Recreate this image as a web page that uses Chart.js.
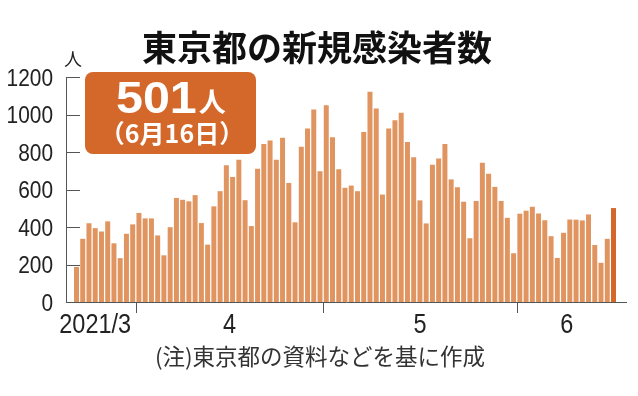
<!DOCTYPE html>
<html><head><meta charset="utf-8">
<script src="https://cdn.jsdelivr.net/npm/chart.js@4/dist/chart.umd.min.js"></script>
<style>html,body{margin:0;padding:0;background:#fff;}#wrap{width:638px;height:396px;}</style>
</head><body><div id="wrap"><canvas id="c" width="638" height="396"></canvas></div>
<script>
// Categories: dates (2021/3/22 - 2021/6/16)
const dates = [
 "3/22","3/23","3/24","3/25","3/26","3/27","3/28","3/29","3/30","3/31",
 "4/1","4/2","4/3","4/4","4/5","4/6","4/7","4/8","4/9","4/10",
 "4/11","4/12","4/13","4/14","4/15","4/16","4/17","4/18","4/19","4/20",
 "4/21","4/22","4/23","4/24","4/25","4/26","4/27","4/28","4/29","4/30",
 "5/1","5/2","5/3","5/4","5/5","5/6","5/7","5/8","5/9","5/10",
 "5/11","5/12","5/13","5/14","5/15","5/16","5/17","5/18","5/19","5/20",
 "5/21","5/22","5/23","5/24","5/25","5/26","5/27","5/28","5/29","5/30","5/31",
 "6/1","6/2","6/3","6/4","6/5","6/6","6/7","6/8","6/9","6/10",
 "6/11","6/12","6/13","6/14","6/15","6/16"
];
// Series: daily new cases
const cases = [
 187,337,420,394,376,430,313,234,364,414,
 475,446,446,355,249,399,555,545,537,570,
 421,306,510,591,729,667,759,543,405,711,
 843,861,759,876,635,425,828,925,1027,698,
 1050,879,708,609,621,591,907,1121,1032,573,
 925,969,1010,854,772,542,419,732,766,843,
 654,612,535,340,539,743,684,614,539,449,260,
 471,487,508,472,436,351,235,369,440,439,
 435,467,304,209,337,501
];
// Tick labels
const yTicks = [0,200,400,600,800,1000,1200];
const monthLabels = ["2021/3","4","5","6"];
const titleText = "東京都の新規感染者数";
const unitText = "人";
const noteText = "(注)東京都の資料などを基に作成";
const calloutValue = "501";
const calloutUnit = "人";
const calloutDate = "（6月16日）";

const LIGHT = "#e0945f";
const DARK = "#d4672a";
const NUM_FONT = "'Liberation Sans',Arial,sans-serif";
const JP_FONT = "'Noto Sans CJK JP','Noto Sans',sans-serif";

// month groups derived from dates
const monthOf = d => d.split("/")[0];
const groups = [];
dates.forEach((d,i)=>{
  const m = monthOf(d);
  if (!groups.length || groups[groups.length-1].m !== m) groups.push({m, start:i, end:i});
  else groups[groups.length-1].end = i;
});
const boundaries = groups.slice(1).map(g=>g.start-0.5);
const labelPos = groups.map((g,k)=> k===0 ? g.start+3 : (g.start+g.end)/2);

function narrowText(ctx, text, x, y, sx, align){
  ctx.save();
  ctx.translate(x, y);
  ctx.scale(sx, 1);
  ctx.textAlign = align;
  ctx.fillText(text, 0, 0);
  ctx.restore();
}

const decor = {
  id:'decor',
  afterDraw(chart){
    const {ctx, scales:{x,y}} = chart;
    ctx.save();
    // inner y ticks
    ctx.strokeStyle = "#555"; ctx.lineWidth = 1;
    yTicks.forEach(v=>{
      if (v===0) return;
      const py = Math.round(y.getPixelForValue(v))+0.5;
      ctx.beginPath(); ctx.moveTo(x.left, py); ctx.lineTo(x.left+14, py); ctx.stroke();
    });
    // month boundary ticks
    boundaries.forEach(b=>{
      const px = Math.round(x.getPixelForValue(b))+0.5;
      ctx.beginPath(); ctx.moveTo(px, y.bottom); ctx.lineTo(px, y.bottom+11); ctx.stroke();
    });
    // y tick labels
    ctx.fillStyle = "#222";
    ctx.textBaseline = "alphabetic";
    ctx.font = "24px " + NUM_FONT;
    yTicks.forEach(v=>{
      narrowText(ctx, String(v), 53, y.getPixelForValue(v)+8.5, 0.87, "right");
    });
    // x tick labels
    ctx.font = "27px " + NUM_FONT;
    monthLabels.forEach((t,k)=>{
      narrowText(ctx, t, x.getPixelForValue(labelPos[k]), 333, 0.87, "center");
    });
    // title
    ctx.fillStyle = "#111";
    ctx.font = "bold 35px " + JP_FONT;
    ctx.textAlign = "center"; ctx.textBaseline = "middle";
    ctx.fillText(titleText, 317, 48);
    // unit
    ctx.font = "18px " + JP_FONT;
    ctx.fillStyle = "#222";
    ctx.fillText(unitText, 73, 59);
    // footnote
    ctx.font = "22.5px " + JP_FONT;
    ctx.fillStyle = "#333";
    ctx.fillText(noteText, 320, 356);
    // callout box
    ctx.fillStyle = DARK;
    ctx.beginPath();
    if (ctx.roundRect) ctx.roundRect(85, 72, 171, 82, 8); else ctx.rect(85,72,171,82);
    ctx.fill();
    ctx.fillStyle = "#fff";
    ctx.textBaseline = "alphabetic";
    ctx.font = "bold 44px 'Liberation Sans',Arial,sans-serif";
    const w = ctx.measureText(calloutValue).width * 1.1;
    narrowText(ctx, calloutValue, 116, 113, 1.1, "left");
    ctx.font = "bold 27px " + JP_FONT;
    ctx.textAlign = "left";
    ctx.fillText(calloutUnit, 116+w+2, 112);
    ctx.textAlign = "center"; ctx.textBaseline = "middle";
    ctx.font = "bold 25px " + JP_FONT;
    ctx.fillText(calloutDate, 172, 133);
    ctx.restore();
  }
};

new Chart(document.getElementById('c'), {
  type:'bar',
  data:{
    labels: dates,
    datasets:[{
      data: cases.map((v,i)=>({x:i, y:v})),
      backgroundColor: cases.map((v,i)=> i===cases.length-1 ? DARK : LIGHT),
      borderWidth:0,
      barPercentage:0.8,
      categoryPercentage:1.0
    }]
  },
  options:{
    responsive:false,
    animation:false,
    devicePixelRatio:1,
    layout:{padding:{top:77,right:12,left:0,bottom:0}},
    plugins:{legend:{display:false},tooltip:{enabled:false},title:{display:false}},
    scales:{
      x:{
        type:'linear',
        offset:false,
        min:-1.68, max:88.0,
        afterFit(s){ s.height = 94; },
        grid:{display:false, drawTicks:false},
        border:{display:true, color:"#555", width:1},
        ticks:{display:false}
      },
      y:{
        min:0, max:1200,
        afterFit(s){ s.width = 66; },
        afterBuildTicks(s){ s.ticks = yTicks.map(v=>({value:v})); },
        grid:{display:false, drawTicks:false},
        border:{display:true, color:"#555", width:1},
        ticks:{display:false}
      }
    }
  },
  plugins:[decor]
});
</script>
</body></html>
